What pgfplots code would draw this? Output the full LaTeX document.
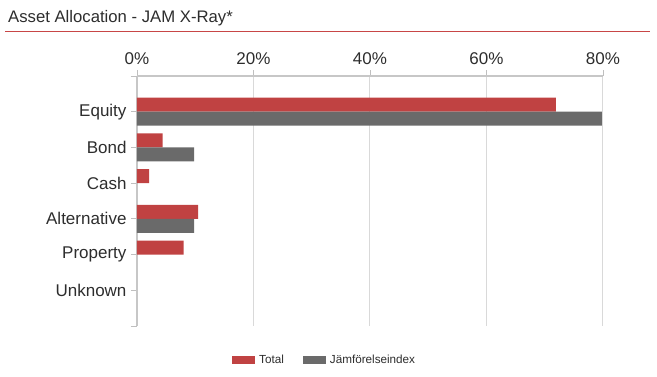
\documentclass[border=0pt]{standalone}
\usepackage{pgfplots}
\pgfplotsset{compat=1.18}
\usepackage{fontspec}
\setmainfont{Liberation Sans}
\definecolor{barred}{RGB}{192,66,66}
\definecolor{bargray}{RGB}{106,106,106}
\definecolor{titlered}{RGB}{200,70,70}
\definecolor{txt}{RGB}{45,45,45}
\begin{document}
\begin{tikzpicture}
\path[use as bounding box] (0pt,0pt) rectangle (657pt,377pt);
\node[anchor=base west, inner sep=0pt, text=txt, font=\fontsize{16.7}{19}\selectfont] at (8pt,354.3pt) {Asset Allocation - JAM X-Ray*};
\draw[titlered, line width=1.4pt] (5pt,345.5pt) -- (650pt,345.5pt);
\begin{axis}[
  at={(137pt,51pt)}, anchor=south west,
  scale only axis, width=466pt, height=250pt,
  xmin=0, xmax=80, ymin=-1, ymax=6,
  axis x line*=top, axis y line*=left,
  axis line style={draw=black!22, line width=1.2pt, -},
  xtick={0,20,40,60,80},
  xticklabels={0\%,20\%,40\%,60\%,80\%},
  ytick={0,1,2,3,4,5},
  yticklabels={Unknown,Property,Alternative,Cash,Bond,Equity},
  extra y ticks={-1,6}, extra y tick labels={},
  tick align=outside, major tick length=6pt,
  tick style={draw=black!25, line width=0.8pt},
  xmajorgrids, grid style={draw=black!15, line width=1pt},
  ticklabel style={font=\fontsize{17}{20}\selectfont, text=txt},
  xticklabel style={yshift=2pt},
  yticklabel style={xshift=-1pt},
  xbar, bar width=14pt,
  legend style={at={(axis description cs:0.2043,-0.135)}, anchor=west, draw=none, inner sep=0pt, outer sep=0pt,
    font=\fontsize{11.7}{14}\selectfont, text=txt, legend columns=2,
    /tikz/every even column/.append style={column sep=17pt}},
  legend image code/.code={\fill[#1] (0pt,-4pt) rectangle (23pt,4pt); \path (25pt,0pt);},
]
\addplot[fill=barred, draw=none, bar shift=7pt] coordinates {(71.9,5) (4.4,4) (2.1,3) (10.5,2) (8.0,1)};
\addlegendentry{Total}
\addplot[fill=bargray, draw=none, bar shift=-7pt] coordinates {(79.8,5) (9.8,4) (9.8,2)};
\addlegendentry{Jämförelseindex}
\end{axis}
\end{tikzpicture}
\end{document}
